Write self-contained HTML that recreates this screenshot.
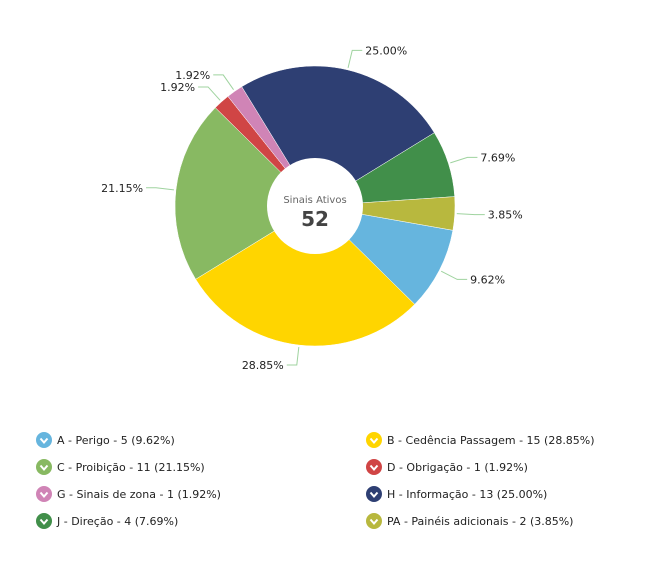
<!DOCTYPE html>
<html><head><meta charset="utf-8"><style>
body{margin:0;background:#fff;width:652px;height:575px;overflow:hidden;font-family:"DejaVu Sans","Liberation Sans",sans-serif}
</style></head><body>
<svg width="652" height="575" id="chart"></svg>
<script>
const categories=["A - Perigo","B - Cedência Passagem","C - Proibição","D - Obrigação","G - Sinais de zona","H - Informação","J - Direção","PA - Painéis adicionais"];
const values=[5,15,11,1,1,13,4,2];
const colors=["#66b5de","#ffd500","#88b962","#d04545","#d084b6","#2e3f73","#418f4a","#b8b83e"];
const startDeg=100;
const svg=document.getElementById('chart');const NS="http://www.w3.org/2000/svg";
const cx=315,cy=206,R=140,r0=48;
function mk(t,a,p){const e=document.createElementNS(NS,t);for(const k in a)e.setAttribute(k,a[k]);(p||svg).appendChild(e);return e;}
const total=values.reduce((a,b)=>a+b,0);
function pt(deg,rad){const a=deg*Math.PI/180;return [cx+rad*Math.sin(a),cy-rad*Math.cos(a)];}
let ang=startDeg;
values.forEach((v,i)=>{
 const sw=v/total*360,a0=ang,a1=ang+sw;ang=a1;
 const p0=pt(a0,R),p1=pt(a1,R);
 const p=mk('path',{d:`M${cx},${cy}L${p0[0]},${p0[1]}A${R},${R} 0 ${sw>180?1:0} 1 ${p1[0]},${p1[1]}Z`,fill:colors[i],stroke:'#fff','stroke-width':0.5});
 
 
 const m=(a0+a1)/2;const e0=pt(m,R+2),e1=pt(m,R+20);
 const right=Math.sin(m*Math.PI/180)>=0;const x2=e1[0]+(right?10:-10);
 const ln=mk('polyline',{points:`${e0[0]},${e0[1]} ${e1[0]},${e1[1]} ${x2},${e1[1]}`,fill:'none',stroke:'#9fd39f','stroke-width':1});
 
 
 const t=mk('text',{x:x2+(right?3:-3),y:e1[1]+4,'font-size':11,fill:'#222','text-anchor':right?'start':'end'});
 t.textContent=(v/total*100).toFixed(2)+'%';
 
 
});
const c=mk('circle',{cx:cx,cy:cy,r:r0,fill:'#fff'});


const t1=mk('text',{x:cx,y:cy-3,'font-size':10,fill:'#666','text-anchor':'middle'});t1.textContent='Sinais Ativos';


const t2=mk('text',{x:cx,y:cy+20,'font-size':20,'font-weight':'bold',fill:'#444','text-anchor':'middle'});t2.textContent=String(total);


categories.forEach((cat,i)=>{
 const col=i%2,row=Math.floor(i/2);const x=col?374:44,y=440+row*27;
 const g=mk('g',{});
 
 
 mk('circle',{cx:x,cy:y,r:8,fill:colors[i]},g);
 mk('polyline',{points:`${x-3.5},${y-1.5} ${x},${y+2.5} ${x+3.5},${y-1.5}`,fill:'none',stroke:'#fff','stroke-width':2},g);
 const t=mk('text',{x:x+13,y:y+4,'font-size':11,fill:'#222'},g);
 t.setAttribute('xml:space','preserve');
 t.textContent=cat+'  - '+values[i]+' ('+(values[i]/total*100).toFixed(2)+'%)';
});
</script>
</body></html>
